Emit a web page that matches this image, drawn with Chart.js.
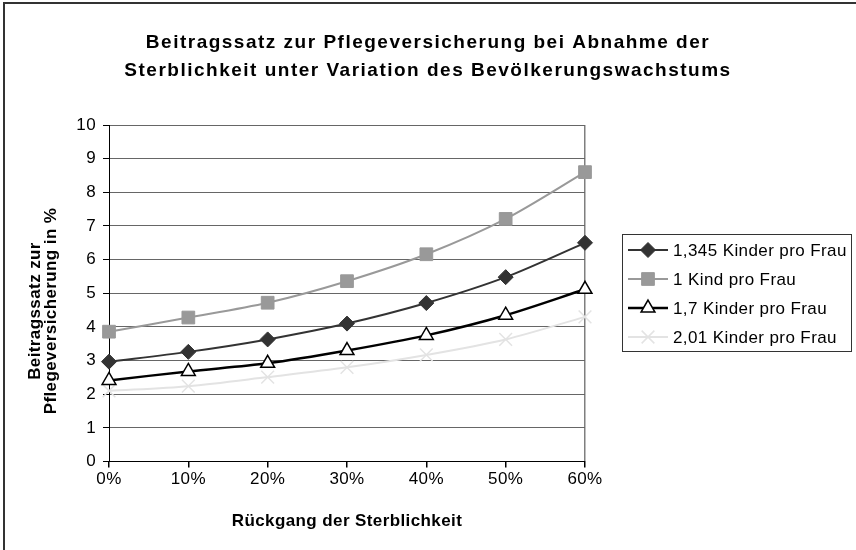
<!DOCTYPE html>
<html>
<head>
<meta charset="utf-8">
<script src="https://cdn.jsdelivr.net/npm/chart.js@4/dist/chart.umd.min.js"></script>
<style>
  html, body { margin: 0; padding: 0; background: #fff; }
  #wrap { width: 856px; height: 550px; }
</style>
</head>
<body>
<div id="wrap"><canvas id="chart" width="856" height="550"></canvas></div>
<script>
// Daten
const rueckgang = ['0%', '10%', '20%', '30%', '40%', '50%', '60%'];
const kinder1345 = [2.97, 3.26, 3.63, 4.10, 4.71, 5.48, 6.50];
const kind1 = [3.86, 4.28, 4.72, 5.36, 6.16, 7.21, 8.60];
const kinder17 = [2.41, 2.68, 2.92, 3.30, 3.75, 4.35, 5.12];
const kinder201 = [2.10, 2.24, 2.51, 2.80, 3.17, 3.63, 4.30];

const titel = ['Beitragssatz zur Pflegeversicherung bei Abnahme der',
               'Sterblichkeit unter Variation des Bevölkerungswachstums'];
const yTitel = ['Beitragssatz zur', 'Pflegeversicherung in %'];

const FONT = 'Liberation Sans, Arial, sans-serif';
const SPACING = '0.4px';

// Excel-Text wirkt etwas gesperrt -> letterSpacing auf dem Canvas
const sperrPlugin = {
    id: 'sperren',
    beforeUpdate(chart) { chart.ctx.letterSpacing = SPACING; },
    beforeDraw(chart) { chart.ctx.letterSpacing = SPACING; }
};

// Rahmen links/oben, weisser Hintergrund, Titel und Y-Achsentitel
const rahmenPlugin = {
    id: 'rahmen',
    beforeDraw(chart) {
        const ctx = chart.ctx;
        ctx.save();
        ctx.fillStyle = '#fff';
        ctx.fillRect(0, 0, chart.width, chart.height);
        ctx.strokeStyle = '#333';
        ctx.lineWidth = 2;
        ctx.beginPath();
        ctx.moveTo(4, chart.height);
        ctx.lineTo(4, 3);
        ctx.lineTo(chart.width, 3);
        ctx.stroke();

        ctx.fillStyle = '#000';
        ctx.textAlign = 'center';
        ctx.textBaseline = 'middle';
        ctx.letterSpacing = '1.5px';
        ctx.font = 'bold 19px ' + FONT;
        titel.forEach((t, i) => ctx.fillText(t, chart.width / 2, 43 + i * 28));

        ctx.letterSpacing = SPACING;
        ctx.font = 'bold 17px ' + FONT;
        yTitel.forEach((t, i) => {
            ctx.save();
            ctx.translate(35 + i * 16, 311);
            ctx.rotate(-Math.PI / 2);
            ctx.fillText(t, 0, 0);
            ctx.restore();
        });
        ctx.restore();
    }
};

// Legende im Excel-Stil: Linie mit Marker, Rahmen darum
const legendePlugin = {
    id: 'legende',
    afterDraw(chart) {
        const ctx = chart.ctx;
        const area = chart.chartArea;
        const x0 = area.right + 37;
        const y0 = 234;
        const w = 229, h = 117;
        ctx.save();
        ctx.strokeStyle = '#333';
        ctx.lineWidth = 1;
        ctx.strokeRect(x0 + 0.5, y0 + 0.5, w, h);
        chart.data.datasets.forEach((ds, i) => {
            const y = y0 + 16 + i * 29;
            ctx.strokeStyle = ds.borderColor;
            ctx.lineWidth = ds.borderWidth;
            ctx.beginPath();
            ctx.moveTo(x0 + 6, y);
            ctx.lineTo(x0 + 46, y);
            ctx.stroke();
            ctx.fillStyle = ds.pointBackgroundColor;
            ctx.strokeStyle = ds.pointBorderColor;
            ctx.lineWidth = ds.pointBorderWidth;
            Chart.helpers.drawPoint(ctx, {
                pointStyle: ds.pointStyle,
                radius: ds.pointRadius,
                borderWidth: ds.pointBorderWidth,
                rotation: 0
            }, x0 + 26, y);
            ctx.fillStyle = '#000';
            ctx.font = '17px ' + FONT;
            ctx.textBaseline = 'middle';
            ctx.textAlign = 'left';
            ctx.fillText(ds.label, x0 + 51, y + 1);
        });
        ctx.restore();
    }
};

const datasets = [
    {
        label: '1,345 Kinder pro Frau',
        data: kinder1345,
        borderColor: '#333333',
        borderWidth: 2,
        pointStyle: 'rectRot',
        pointRadius: 7.5,
        pointBackgroundColor: '#333333',
        pointBorderColor: '#333333',
        pointBorderWidth: 1
    },
    {
        label: '1 Kind pro Frau',
        data: kind1,
        borderColor: '#999999',
        borderWidth: 2,
        pointStyle: 'rect',
        pointRadius: 9,
        pointBackgroundColor: '#999999',
        pointBorderColor: '#999999',
        pointBorderWidth: 1
    },
    {
        label: '1,7 Kinder pro Frau',
        data: kinder17,
        borderColor: '#000000',
        borderWidth: 2.5,
        pointStyle: 'triangle',
        pointRadius: 8,
        pointBackgroundColor: '#ffffff',
        pointBorderColor: '#000000',
        pointBorderWidth: 1.5
    },
    {
        label: '2,01 Kinder pro Frau',
        data: kinder201,
        borderColor: '#e3e3e3',
        borderWidth: 2,
        pointStyle: 'crossRot',
        pointRadius: 9,
        pointBackgroundColor: '#e3e3e3',
        pointBorderColor: '#e3e3e3',
        pointBorderWidth: 1.5
    }
].map(ds => ({ ...ds, tension: 0.3, fill: false, clip: false, pointHoverRadius: ds.pointRadius }));

new Chart(document.getElementById('chart'), {
    type: 'line',
    data: { labels: rueckgang, datasets: datasets },
    options: {
        responsive: false,
        animation: false,
        devicePixelRatio: 1,
        layout: { padding: { left: 0, right: 0, top: 125, bottom: 19 } },
        plugins: {
            legend: { display: false },
            tooltip: { enabled: false },
            title: { display: false }
        },
        scales: {
            x: {
                offset: false,
                grid: {
                    color: (c) => c.index === rueckgang.length - 1 ? '#7f7f7f' : 'rgba(0,0,0,0)',
                    tickColor: '#000',
                    tickLength: 6,
                    lineWidth: 1.5
                },
                border: { color: '#000', width: 1 },
                ticks: { color: '#000', padding: 2, maxRotation: 0, font: { family: FONT, size: 17 } },
                title: {
                    display: true,
                    text: 'Rückgang der Sterblichkeit',
                    color: '#000',
                    font: { family: FONT, size: 17, weight: 'bold', lineHeight: '20px' },
                    padding: { top: 19, bottom: 0 }
                }
            },
            y: {
                min: 0,
                max: 10,
                ticks: { stepSize: 1, color: '#000', padding: 7, font: { family: FONT, size: 17 } },
                grid: { color: '#666', tickColor: '#000', tickLength: 6 },
                border: { color: '#000', width: 1 },
                title: { display: false },
                afterFit(s) { s.width = 109; }
            },
            y2: {
                position: 'right',
                display: true,
                grid: { display: false },
                border: { display: false },
                ticks: { display: false },
                afterFit(s) { s.width = 271; }
            }
        }
    },
    plugins: [sperrPlugin, rahmenPlugin, legendePlugin]
});
</script>
</body>
</html>
